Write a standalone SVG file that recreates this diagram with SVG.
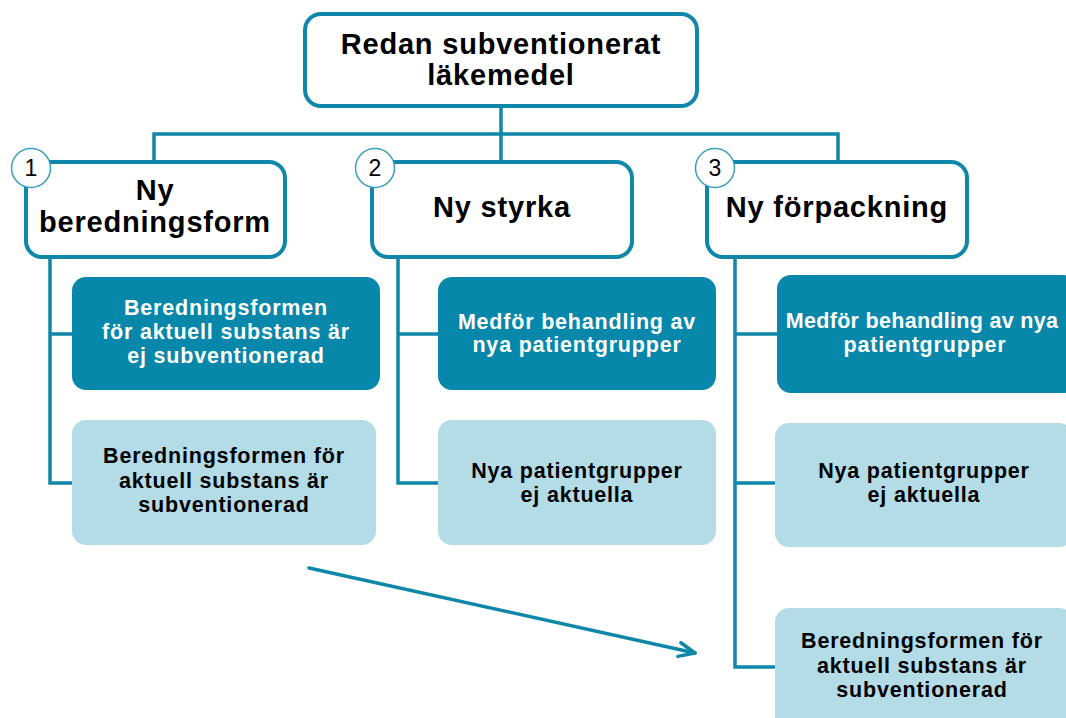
<svg xmlns="http://www.w3.org/2000/svg" width="1066" height="718" viewBox="0 0 1066 718">
<style>
.hdr{fill:#fff;stroke:#0e87a8;stroke-width:4}
.dark{fill:#0787a9}
.light{fill:#b3dce6}
.ln{fill:none;stroke:#0e87a8;stroke-width:3.5}
.num{fill:#fff;stroke:#3a9fbc;stroke-width:1.5}
text{font-family:"Liberation Sans",Arial,sans-serif;text-anchor:middle}
.t1{font-size:29px;font-weight:bold;fill:#000;letter-spacing:0.8px}
.t2{font-size:21.5px;font-weight:bold;letter-spacing:0.8px}
.w{fill:#fff}
.b{fill:#000}
.n{font-size:23px;fill:#000}
</style>
<defs>
<marker id="arr" markerWidth="22" markerHeight="20" refX="18" refY="9" orient="auto" markerUnits="userSpaceOnUse">
<path d="M2,2 L18,9 L2,16" fill="none" stroke="#0e87a8" stroke-width="3.5" stroke-linecap="round" stroke-linejoin="round"/>
</marker>
</defs>
<g id="connectors">
<path class="ln" d="M501,106 V162"/>
<path class="ln" d="M154,162 V134 H838 V162"/>
<path class="ln" d="M50,257 V483 H72 M50,334 H72"/>
<path class="ln" d="M398,257 V483 H438 M398,334 H438"/>
<path class="ln" d="M735,257 V667 H775 M735,334 H777 M735,483 H775"/>
<line x1="309" y1="568" x2="695" y2="653" stroke="#0e87a8" stroke-width="3.5" stroke-linecap="round" marker-end="url(#arr)"/>
</g>
<g id="root">
<rect class="hdr" x="305" y="14" width="392" height="92" rx="16"/>
<text class="t1" x="501" y="54">Redan subventionerat</text>
<text class="t1" x="501" y="85">läkemedel</text>
</g>
<g id="n1">
<rect class="hdr" x="26" y="162" width="259" height="95" rx="16"/>
<text class="t1" x="155" y="200">Ny</text>
<text class="t1" x="155" y="232">beredningsform</text>
<circle class="num" cx="31" cy="168" r="19.5"/>
<text class="n" x="31" y="176">1</text>
</g>
<g id="n2">
<rect class="hdr" x="372" y="162" width="260" height="95" rx="16"/>
<text class="t1" x="502" y="217">Ny styrka</text>
<circle class="num" cx="375" cy="168" r="19.5"/>
<text class="n" x="375" y="176">2</text>
</g>
<g id="n3">
<rect class="hdr" x="707" y="162" width="260" height="95" rx="16"/>
<text class="t1" x="837" y="217">Ny förpackning</text>
<circle class="num" cx="715" cy="168" r="19.5"/>
<text class="n" x="715" y="176">3</text>
</g>
<g id="n1a">
<rect class="dark" x="72" y="277" width="308" height="113" rx="14"/>
<text class="t2 w" x="226" y="315">Beredningsformen</text>
<text class="t2 w" x="226" y="339">för aktuell substans är</text>
<text class="t2 w" x="226" y="363">ej subventionerad</text>
</g>
<g id="n1b">
<rect class="light" x="72" y="420" width="304" height="125" rx="14"/>
<text class="t2 b" x="224" y="463">Beredningsformen för</text>
<text class="t2 b" x="224" y="488">aktuell substans är</text>
<text class="t2 b" x="224" y="512">subventionerad</text>
</g>
<g id="n2a">
<rect class="dark" x="438" y="277" width="278" height="113" rx="14"/>
<text class="t2 w" x="577" y="329">Medför behandling av</text>
<text class="t2 w" x="577" y="352">nya patientgrupper</text>
</g>
<g id="n2b">
<rect class="light" x="438" y="420" width="278" height="125" rx="14"/>
<text class="t2 b" x="577" y="478">Nya patientgrupper</text>
<text class="t2 b" x="577" y="502">ej aktuella</text>
</g>
<g id="n3a">
<rect class="dark" x="777" y="275" width="300" height="118" rx="14"/>
<text class="t2 w" x="922" y="328" style="letter-spacing:0.3px">Medför behandling av nya</text>
<text class="t2 w" x="925" y="352">patientgrupper</text>
</g>
<g id="n3b">
<rect class="light" x="775" y="423" width="298" height="124" rx="14"/>
<text class="t2 b" x="924" y="478">Nya patientgrupper</text>
<text class="t2 b" x="924" y="502">ej aktuella</text>
</g>
<g id="n3c">
<rect class="light" x="775" y="608" width="298" height="124" rx="14"/>
<text class="t2 b" x="922" y="648">Beredningsformen för</text>
<text class="t2 b" x="922" y="673">aktuell substans är</text>
<text class="t2 b" x="922" y="697">subventionerad</text>
</g>
</svg>
